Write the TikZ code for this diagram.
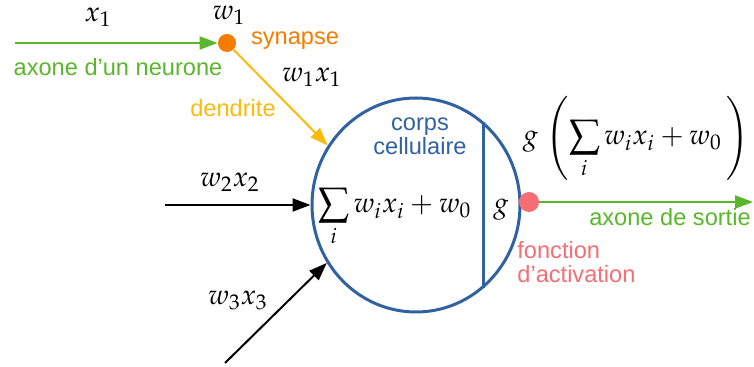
\documentclass[tikz,border=0pt]{standalone}
\usepackage{mathpazo}
\usepackage{fontspec}
\setsansfont{Liberation Sans}
\usetikzlibrary{arrows.meta,shapes.geometric}
\definecolor{axongreen}{RGB}{90,182,42}
\definecolor{synorange}{RGB}{245,124,0}
\definecolor{dendyellow}{RGB}{252,186,10}
\definecolor{somablue}{RGB}{48,98,162}
\definecolor{actred}{RGB}{246,110,115}
\tikzset{
	lbl/.style={font=\sffamily\fontsize{11.8}{12.2}\selectfont, inner sep=0pt, align=center},
	mth/.style={font=\fontsize{14}{17}\selectfont, inner sep=0pt},
	wire/.style={->, line width=1pt},
	dot/.style={circle, inner sep=0pt},
}
\begin{document}
\begin{tikzpicture}[x=0.5pt, y=-0.5pt, >={Triangle[length=9pt,width=6.5pt]}]
	\useasboundingbox (0,0) rectangle (754,367);
	% cell body
	\node[ellipse, draw=somablue, line width=1.5pt, minimum width=104pt, minimum height=107pt, inner sep=0pt] (soma) at (416,205) {};
	\draw[somablue, line width=1.5pt] (soma.51.6) -- (soma.-51.6);
	\node[mth, anchor=base west] (sum) at (318,213) {$\displaystyle\sum_i w_i x_i + w_0$};
	\node[mth, anchor=base] (gfun) at (501,213) {$g$};
	\node[lbl, text=somablue] (body) at (420,136) {corps\\cellulaire};
	% dots
	\node[dot, fill=synorange, minimum size=9pt] (syn) at (227,43) {};
	\node[dot, fill=actred, minimum size=10pt] (act) at (529,202) {};
	\coordinate (in1) at (15,43);
	\coordinate (in2) at (165,205);
	\coordinate (in3) at (225,363);
	\coordinate (out) at (753,202);
	% connectors
	\draw[wire, axongreen] (in1) -- (syn);
	\draw[wire, dendyellow] (syn) -- (soma.146);
	\draw[wire] (in2) -- (soma.west);
	\draw[wire] (in3) -- (soma.-147);
	\draw[wire, axongreen] (act) -- (out);
	% labels
	\foreach \nm/\x/\y/\txt in {lx1/98/17/x_1, lw1/229/15/w_1, lwx1/312/77/w_1x_1, lwx2/230/182/w_2x_2, lwx3/238/300/w_3x_3} {
		\node[mth] (\nm) at (\x,\y) {$\txt$};
	}
	\node[mth] (gout) at (636,138) {$\displaystyle g\;\Biggl(\sum_i w_i x_i + w_0\,\Biggr)$};
	\node[lbl, text=synorange] (lsyn) at (295,41) {synapse};
	\node[lbl, text=axongreen] (laxin) at (118,67) {axone d’un neurone};
	\node[lbl, text=dendyellow] (ldend) at (233,108) {dendrite};
	\node[lbl, text=axongreen] (laxout) at (670,217) {axone de sortie};
	\node[lbl, text=actred, align=left, anchor=west] (lact) at (517,262) {fonction\\d’activation};
\end{tikzpicture}
\end{document}
